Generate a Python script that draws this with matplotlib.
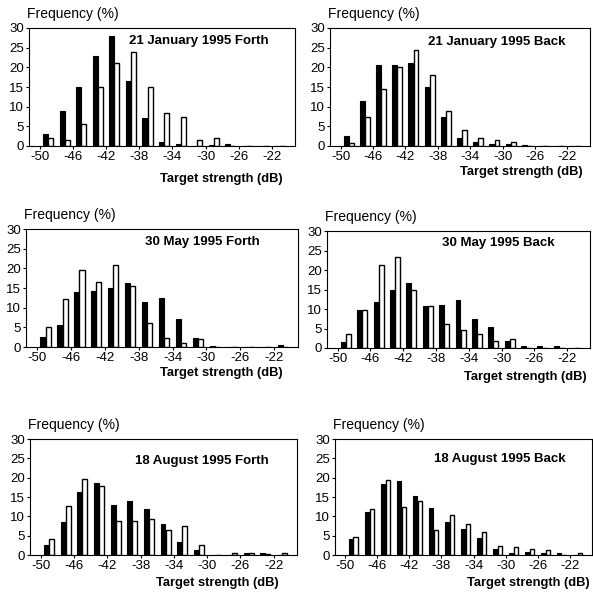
import matplotlib
matplotlib.use("Agg")
import matplotlib.pyplot as plt
import numpy as np

plt.rcParams['font.family'] = ['Liberation Sans', 'DejaVu Sans']

# bin centres (dB), 2 dB bins
bin_centres = [-49, -47, -45, -43, -41, -39, -37, -35, -33, -31, -29, -27, -25, -23, -21]
xtick_values = [-50, -46, -42, -38, -34, -30, -26, -22]
ytick_values = [0, 5, 10, 15, 20, 25, 30]

titles = ["21 January 1995 Forth", "21 January 1995 Back",
          "30 May 1995 Forth", "30 May 1995 Back",
          "18 August 1995 Forth", "18 August 1995 Back"]

jan_forth_black = [3, 9, 15, 23, 28, 16.5, 7, 1, 0.5, 0, 0.2, 0.6, 0, 0, 0]
jan_forth_white = [2, 1.5, 5.5, 15, 21, 24, 15, 8.5, 7.5, 1.5, 2, 0, 0, 0, 0]
jan_back_black = [2.5, 11.5, 20.5, 20.5, 21, 15, 7.5, 2, 1, 0.5, 0.5, 0.3, 0, 0, 0]
jan_back_white = [0.7, 7.5, 14.5, 20, 24.5, 18, 9, 4, 2, 1.5, 1, 0, 0, 0, 0]
may_forth_black = [2.6, 5.6, 14, 14.3, 14.9, 16.2, 11.5, 12.5, 7.1, 2.2, 0.3, 0.1, 0, 0.1, 0.6]
may_forth_white = [5, 12.2, 19.7, 16.6, 20.8, 15.5, 6.2, 2.2, 1, 2.1, 0, 0, 0, 0, 0]
may_back_black = [1.6, 9.8, 11.8, 14.9, 16.6, 10.7, 10.9, 12.3, 7.4, 5.3, 1.8, 0.6, 0.6, 0.6, 0]
may_back_white = [3.7, 9.8, 21.4, 23.3, 14.9, 10.7, 6.1, 4.6, 3.5, 1.8, 2.2, 0, 0, 0, 0]
aug_forth_black = [2.7, 8.6, 16.4, 18.5, 12.9, 14, 11.9, 7.9, 3.4, 1.3, 0.1, 0, 0.5, 0.5, 0.1]
aug_forth_white = [4.2, 12.7, 19.7, 17.8, 8.7, 8.7, 9.2, 6.5, 7.4, 2.5, 0.1, 0.4, 0.5, 0.3, 0.5]
aug_back_black = [4.2, 11, 18.3, 19.1, 15.2, 12.1, 8.5, 6.8, 4.4, 1.5, 0.6, 0.7, 0.4, 0.5, 0]
aug_back_white = [4.6, 12, 19.4, 12.5, 13.9, 6.5, 10.4, 8.1, 6, 2.4, 2, 1.5, 1.3, 0, 0.5]

series = [(jan_forth_black, jan_forth_white), (jan_back_black, jan_back_white),
          (may_forth_black, may_forth_white), (may_back_black, may_back_white),
          (aug_forth_black, aug_forth_white), (aug_back_black, aug_back_white)]

W, H = 593, 595
fig = plt.figure(figsize=(W / 100, H / 100), dpi=100)

# pixel boxes: (left, right, top, bottom)
boxes = [(29, 295, 28, 146), (330, 590, 28, 146),
         (26, 298, 229, 347), (327, 590, 231, 348),
         (30, 297, 439, 555), (335, 592, 439, 555)]
title_pos = [(0.64, 0.89), (0.64, 0.88), (0.65, 0.89), (0.65, 0.90), (0.645, 0.81), (0.64, 0.83)]
xlabel_pos = [(283, 179), (583, 172), (283, 373), (587, 377), (279, 583), (590, 583)]

bw = 0.6
off = 0.31
for i, (box, (blk, wht)) in enumerate(zip(boxes, series)):
    l, r, t, b = box
    ax = fig.add_axes([l / W, 1 - b / H, (r - l) / W, (b - t) / H])
    x = np.array(bin_centres, dtype=float)
    ax.bar(x - off, blk, width=bw, color='black', edgecolor='black', linewidth=0.8)
    ax.bar(x + off, wht, width=bw, color='white', edgecolor='black', linewidth=1.0)
    ax.set_xlim(-51.3, -19.2)
    ax.set_ylim(0, 30)
    ax.set_xticks(xtick_values)
    ax.set_xticklabels([str(v) for v in xtick_values])
    ax.set_yticks(ytick_values)
    ax.tick_params(axis='both', labelsize=9.5, length=2, width=0.8, direction='out', pad=1.5)
    for s in ax.spines.values():
        s.set_linewidth(0.8)
    ax.text(title_pos[i][0], title_pos[i][1], titles[i], transform=ax.transAxes,
            ha='center', va='center', fontsize=9.5, fontweight='bold')
    fig.text((l - 2) / W, 1 - (t - 14) / H, "Frequency (%)", ha='left', va='center', fontsize=10)
    xl, yl = xlabel_pos[i]
    fig.text(xl / W, 1 - yl / H, "Target strength (dB)", ha='right', va='center',
             fontsize=9.3, fontweight='bold')

fig.savefig("out.png", dpi=100)
